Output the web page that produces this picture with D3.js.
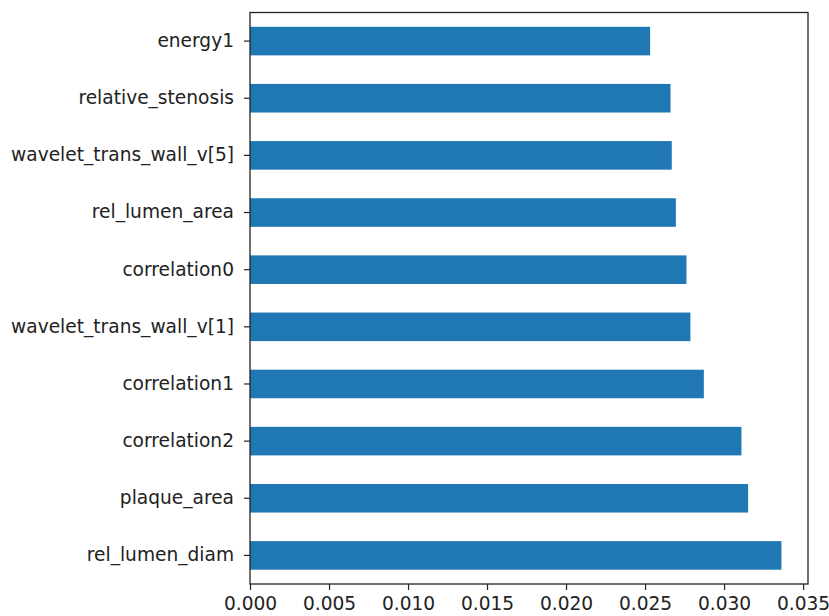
<!DOCTYPE html>
<html>
<head>
<meta charset="utf-8">
<script src="https://cdn.jsdelivr.net/npm/d3@7"></script>
<style>
  html, body { margin: 0; padding: 0; background: #fff; }
  svg { display: block; }
  .tick text { font-family: "DejaVu Sans", sans-serif; font-size: 18.6px; fill: #222; }
</style>
</head>
<body>
<svg id="chart" width="829" height="616"></svg>
<script>
// Feature importances, top ten
const features = [
  "energy1",
  "relative_stenosis",
  "wavelet_trans_wall_v[5]",
  "rel_lumen_area",
  "correlation0",
  "wavelet_trans_wall_v[1]",
  "correlation1",
  "correlation2",
  "plaque_area",
  "rel_lumen_diam"
];
const importances = [
  0.02532, 0.02661, 0.02669, 0.02695, 0.02762,
  0.02787, 0.02872, 0.03110, 0.03152, 0.03363
];
const xTicks = [0.000, 0.005, 0.010, 0.015, 0.020, 0.025, 0.030, 0.035];

const svg = d3.select("#chart");
const margin = { left: 250, right: 21, top: 12.5, bottom: 32 };
const W = 829, H = 616;
const x0 = margin.left, x1 = W - margin.right;
const y0 = margin.top, y1 = H - margin.bottom;

const x = d3.scaleLinear()
  .domain([0, d3.max(importances) * 1.05])
  .range([x0, x1]);

const y = d3.scaleBand()
  .domain(features)
  .range([y0, y1])
  .paddingInner(0.5)
  .paddingOuter(0.25);

// bars
svg.append("g")
  .selectAll("rect")
  .data(features)
  .join("rect")
  .attr("x", x(0))
  .attr("y", d => y(d))
  .attr("width", (d, i) => x(importances[i]) - x(0))
  .attr("height", y.bandwidth())
  .attr("fill", "#1f77b4");

// axes
const xAxis = svg.append("g")
  .attr("transform", `translate(0,${y1})`)
  .call(d3.axisBottom(x).tickValues(xTicks).tickFormat(d3.format(".3f")).tickSize(6).tickPadding(5));

const yAxis = svg.append("g")
  .attr("transform", `translate(${x0},0)`)
  .call(d3.axisLeft(y).tickSize(6).tickPadding(10));

[xAxis, yAxis].forEach(g => {
  g.select(".domain").remove();
  g.selectAll(".tick line").attr("stroke", "#222").attr("stroke-width", 1.2);
});
xAxis.selectAll(".tick text").attr("dy", "0.78em");

// frame
svg.append("rect")
  .attr("x", x0)
  .attr("y", y0)
  .attr("width", x1 - x0)
  .attr("height", y1 - y0)
  .attr("fill", "none")
  .attr("stroke", "#222")
  .attr("stroke-width", 1.3);
</script>
</body>
</html>
